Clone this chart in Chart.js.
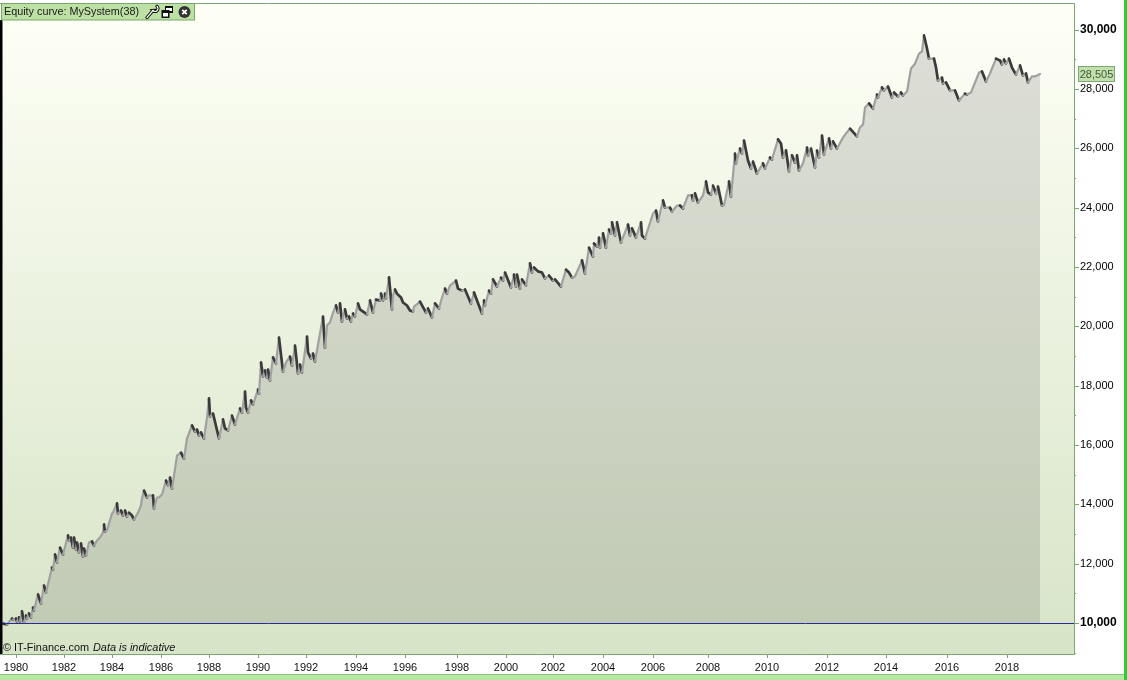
<!DOCTYPE html>
<html>
<head>
<meta charset="utf-8">
<script src="https://cdn.jsdelivr.net/npm/chart.js@4"></script>
<style>
html,body{margin:0;padding:0;background:#fff;width:1127px;height:680px;overflow:hidden}
#wrap{position:absolute;left:0;top:0;width:1127px;height:680px}
</style>
</head>
<body>
<div id="wrap"><canvas id="c" width="1127" height="680"></canvas></div>
<script>
const bars = [3,7,10,12,13,16,17,19,20,22,24,26,27,29,31,33,34,38,41,44,46,52,53,55,57,60,63,68,69,71,73,74,76,77,79,81,83,84,86,89,92,94,97,100,103,104,105,107,112,113,117,118,121,123,125,127,129,132,134,138,141,142,144,147,149,153,154,157,159,162,166,168,170,172,177,181,184,187,192,195,197,199,201,204,207,209,210,213,219,223,225,228,232,235,240,242,245,246,248,251,253,258,259,261,263,265,267,268,270,273,276,279,283,286,290,292,295,298,300,302,307,308,311,313,315,323,325,327,330,333,336,338,340,342,345,347,349,351,353,355,358,360,367,370,373,376,380,381,383,385,386,389,392,393,395,397,401,403,407,410,413,414,420,426,428,432,435,439,442,445,447,450,456,458,462,465,471,474,477,482,484,485,489,491,493,497,501,503,505,511,514,516,517,520,522,526,530,532,534,538,542,545,549,553,555,561,566,569,572,575,582,585,589,593,594,597,599,600,603,606,609,611,612,615,617,621,628,630,632,636,641,642,645,653,656,658,663,665,670,672,677,680,683,688,692,693,695,698,703,706,708,711,713,716,718,722,724,729,731,735,736,740,742,744,748,751,753,757,760,763,765,770,772,778,781,783,786,789,792,795,797,799,803,807,808,811,815,817,819,822,824,829,831,833,837,843,846,850,857,860,863,865,867,869,873,877,878,882,884,888,892,894,898,901,903,907,911,915,919,922,924,927,929,934,936,938,942,943,946,950,955,959,965,967,971,977,979,982,986,990,996,1000,1002,1004,1006,1009,1012,1016,1020,1023,1026,1028,1032,1035,1040];
const equity = [9980,9950,10080,10150,10120,10150,10050,10190,10050,10390,10020,10250,10150,10320,10190,10520,10420,10960,10660,11260,11030,11870,11800,12310,12040,12540,12310,12950,12780,12880,12540,12880,12480,12710,12380,12680,12240,12510,12270,12710,12750,12610,12780,12880,13050,13320,13080,13120,13690,13720,14030,13690,13790,13620,13790,13590,13720,13620,13490,13720,13960,14200,14460,14230,14300,14300,13860,14230,14230,14330,14800,14640,14900,14530,15640,15740,15540,16220,16660,16450,16520,16320,16420,16220,16920,17570,16960,17060,16220,16860,16560,16490,16990,16690,17230,17090,17800,17260,17090,17500,17360,17870,17730,18780,18310,18510,18270,18540,18170,18950,18750,19620,18470,18780,18980,18680,19350,18410,18710,18440,19650,19120,18910,19080,18810,20330,19280,20030,20130,20460,20700,20460,20770,20160,20570,20260,20330,20160,20430,20330,20770,20570,20400,20870,20460,20900,20870,21100,20870,21100,20940,21650,20570,21040,21240,21100,20970,20800,20700,20530,20500,20660,20830,20460,20600,20300,20770,20600,20970,21270,21100,21370,21540,21270,21200,21240,20770,21140,20870,20430,20870,20700,21200,21100,21580,21340,21640,21540,21810,21310,21740,21340,21740,21270,21580,21380,22120,21810,21980,21850,21810,21610,21710,21540,21580,21340,21910,21810,21640,21680,22220,21780,22650,22350,22790,22690,22990,22650,23130,22650,23260,23130,23500,23060,23500,22820,23430,23060,23300,22990,23500,23060,22960,23800,23900,23530,24240,24000,24000,23870,24070,24070,23970,24410,24410,24240,24480,24170,24410,24880,24510,24440,24740,24480,24710,24070,24070,24880,24370,25820,25490,25990,25820,26260,25590,25320,25550,25150,25320,25490,25320,25690,25620,26300,26160,25690,25930,25220,25760,25520,25760,25250,25490,26020,25760,25990,25350,25920,25690,26430,25790,26330,25990,26230,25990,26360,26500,26660,26400,26700,26800,27370,27440,27510,27340,27810,27710,28050,27950,28080,27710,27880,27740,27880,27780,27910,28690,28850,29190,29260,29800,29360,29020,29020,28720,28280,28380,28180,28220,27950,27950,27610,27840,27810,27880,28380,28550,28590,28250,28520,29020,28960,28820,28990,28860,29020,28720,28480,28790,28450,28520,28220,28420,28420,28505];
const yearLabels = ["1980","1982","1984","1986","1988","1990","1992","1994","1996","1998","2000","2002","2004","2006","2008","2010","2012","2014","2016","2018"];
const yearBars = [16,64,112,161,209,258,306,356,405,457,506,553,603,653,708,767,827,886,947,1007];
const yTicks = [9000,10000,11000,12000,13000,14000,15000,16000,17000,18000,19000,20000,21000,22000,23000,24000,25000,26000,27000,28000,29000,30000];
const boldTicks = [10000,30000];
const lastValue = 28505;
const baseValue = 10000;
const titleText = "Equity curve: MySystem(38)";
const creditText = "© IT-Finance.com";
const noteText = "Data is indicative";

const FONT = '"Liberation Sans", Arial, sans-serif';
const GREEN = '#78a86e';

const decor = {
  id:'decor',
  beforeDraw(chart){
    const {ctx,chartArea:a} = chart;
    ctx.save();
    ctx.fillStyle = '#fff';
    ctx.fillRect(0,0,1127,680);
    const g = ctx.createLinearGradient(0,a.top,0,a.bottom);
    g.addColorStop(0,'#fefff6');
    g.addColorStop(1,'#d7e4c7');
    ctx.fillStyle = g;
    ctx.fillRect(a.left,a.top,a.right-a.left,a.bottom-a.top);
    ctx.restore();
  },
  afterDraw(chart){
    const {ctx,chartArea:a,scales:{x,y}} = chart;
    ctx.save();
    // frame
    ctx.strokeStyle = GREEN; ctx.lineWidth = 1;
    ctx.beginPath();
    ctx.moveTo(0,a.top+.5); ctx.lineTo(a.right+.5,a.top+.5);
    ctx.lineTo(a.right+.5,a.bottom+.5); ctx.lineTo(0,a.bottom+.5);
    ctx.stroke();
    // base line
    const by = Math.round(y.getPixelForValue(baseValue))+.5;
    ctx.strokeStyle = '#2a2a9c';
    ctx.beginPath(); ctx.moveTo(0,by); ctx.lineTo(a.right,by); ctx.stroke();
    // left bar
    ctx.fillStyle = '#000';
    ctx.fillRect(0,20,2.5,a.bottom-20);
    // y ticks
    yTicks.forEach(v=>{
      const p = Math.round(y.getPixelForValue(v))+.5;
      ctx.strokeStyle = GREEN;
      ctx.beginPath(); ctx.moveTo(a.right,p);
      ctx.lineTo(a.right+(v%2000===0?5:2),p); ctx.stroke();
    });
    // x ticks
    yearBars.forEach(b=>{
      const p = Math.round(x.getPixelForValue(b))+.5;
      ctx.beginPath(); ctx.moveTo(p,a.bottom); ctx.lineTo(p,a.bottom+4); ctx.stroke();
    });
    // credits
    ctx.fillStyle = '#111'; ctx.textBaseline='middle'; ctx.textAlign='left';
    ctx.font = '10.9px '+FONT;
    ctx.fillText(creditText,3,648);
    ctx.font = 'italic 10.9px '+FONT;
    ctx.fillText(noteText,93,648);
    // last value badge
    const ly = Math.round(y.getPixelForValue(lastValue));
    ctx.fillStyle = '#c3e0ac'; ctx.strokeStyle = GREEN;
    ctx.fillRect(1078.5,ly-7.5,36,15); ctx.strokeRect(1078.5,ly-7.5,36,15);
    ctx.fillStyle = '#3c5a3c'; ctx.font = '11px '+FONT; ctx.textAlign='center';
    ctx.fillText(lastValue.toLocaleString('en-US'),1096.5,ly+.5);
    // title badge
    ctx.fillStyle = '#bde0a4'; ctx.strokeStyle = GREEN;
    ctx.fillRect(1.5,3.5,193,16.5); ctx.strokeRect(1.5,3.5,193,16.5);
    ctx.fillStyle = '#1a1a1a'; ctx.textAlign='left'; ctx.font = '10.8px '+FONT;
    ctx.fillText(titleText,4,12);
    // wrench icon
    const wrench = ()=>{ctx.beginPath(); ctx.moveTo(147,17.5); ctx.lineTo(153,10.5); ctx.arc(155,8.5,3,2.4,5.4,true); ctx.stroke();};
    ctx.lineCap='round';
    ctx.strokeStyle='#111'; ctx.lineWidth=3.2; wrench();
    ctx.strokeStyle='#f4f8ec'; ctx.lineWidth=1.2; wrench();
    ctx.lineCap='butt';
    // window icon
    ctx.fillStyle='#111'; ctx.fillRect(165,6,8,7);
    ctx.fillStyle='#fff'; ctx.fillRect(166,8,6,3);
    ctx.fillStyle='#111'; ctx.fillRect(161.5,10,8,8);
    ctx.fillStyle='#fff'; ctx.fillRect(163,13,5,3.5);
    // close icon
    ctx.fillStyle='#333'; ctx.beginPath(); ctx.arc(184.5,12,6,0,Math.PI*2); ctx.fill();
    ctx.strokeStyle='#fff'; ctx.lineWidth=1.8;
    ctx.beginPath(); ctx.moveTo(182.3,9.8); ctx.lineTo(186.7,14.2);
    ctx.moveTo(186.7,9.8); ctx.lineTo(182.3,14.2); ctx.stroke();
    // window edges
    ctx.fillStyle='#b6e8a2'; ctx.fillRect(0,675,1127,5);
    ctx.fillStyle='#8cc47e'; ctx.fillRect(0,674,1124,1);
    ctx.fillStyle='#2ecb33'; ctx.fillRect(1124,0,3,680);
    ctx.restore();
  }
};

const points = bars.map((b,i)=>({x:b,y:equity[i]}));
const noPad = s=>{s.paddingTop=0;s.paddingBottom=0;s.paddingLeft=0;s.paddingRight=0;};

new Chart(document.getElementById('c'),{
  type:'line',
  data:{datasets:[
  {
    data:points,
    order:2,
    borderWidth:0,
    pointRadius:0,
    tension:0,
    fill:{value:baseValue},
    backgroundColor:'rgba(100,100,100,0.2)'
  },
  {
    data:points,
    order:1,
    fill:false,
    borderWidth:2.2,
    borderColor:'#a0a0a0',
    borderJoinStyle:'round',
    borderCapStyle:'round',
    pointRadius:0,
    tension:0,
    segment:{
      borderColor:c=>c.p1.parsed.y<c.p0.parsed.y?'#3a3a3a':'#a0a0a0',
      borderWidth:c=>c.p1.parsed.y<c.p0.parsed.y?2.7:2.2
    }
  }]},
  options:{
    responsive:false,
    animation:false,
    devicePixelRatio:1,
    layout:{autoPadding:false,padding:{top:3,left:0,right:0,bottom:0}},
    plugins:{legend:{display:false},tooltip:{enabled:false}},
    scales:{
      x:{
        type:'linear',min:0,max:1074,
        afterBuildTicks:s=>{s.ticks=yearBars.map(v=>({value:v}));},
        afterFit:s=>{s.height=26;noPad(s);},
        grid:{display:false,drawTicks:false},border:{display:false},
        ticks:{
          autoSkip:false,maxRotation:0,padding:7,color:'#111',
          font:{family:FONT,size:11},
          callback:v=>yearLabels[yearBars.indexOf(v)]
        }
      },
      y:{
        position:'right',min:8955,max:30895,
        afterBuildTicks:s=>{s.ticks=yTicks.map(v=>({value:v}));},
        afterFit:s=>{s.width=53;noPad(s);},
        grid:{display:false,drawTicks:false},border:{display:false},
        ticks:{
          autoSkip:false,padding:6,color:'#000',
          font:c=>(c.tick&&boldTicks.includes(c.tick.value))?{family:FONT,size:12,weight:'bold'}:{family:FONT,size:11},
          callback:v=>v%2000===0?v.toLocaleString('en-US'):''
        }
      }
    }
  },
  plugins:[decor]
});
</script>
</body>
</html>
